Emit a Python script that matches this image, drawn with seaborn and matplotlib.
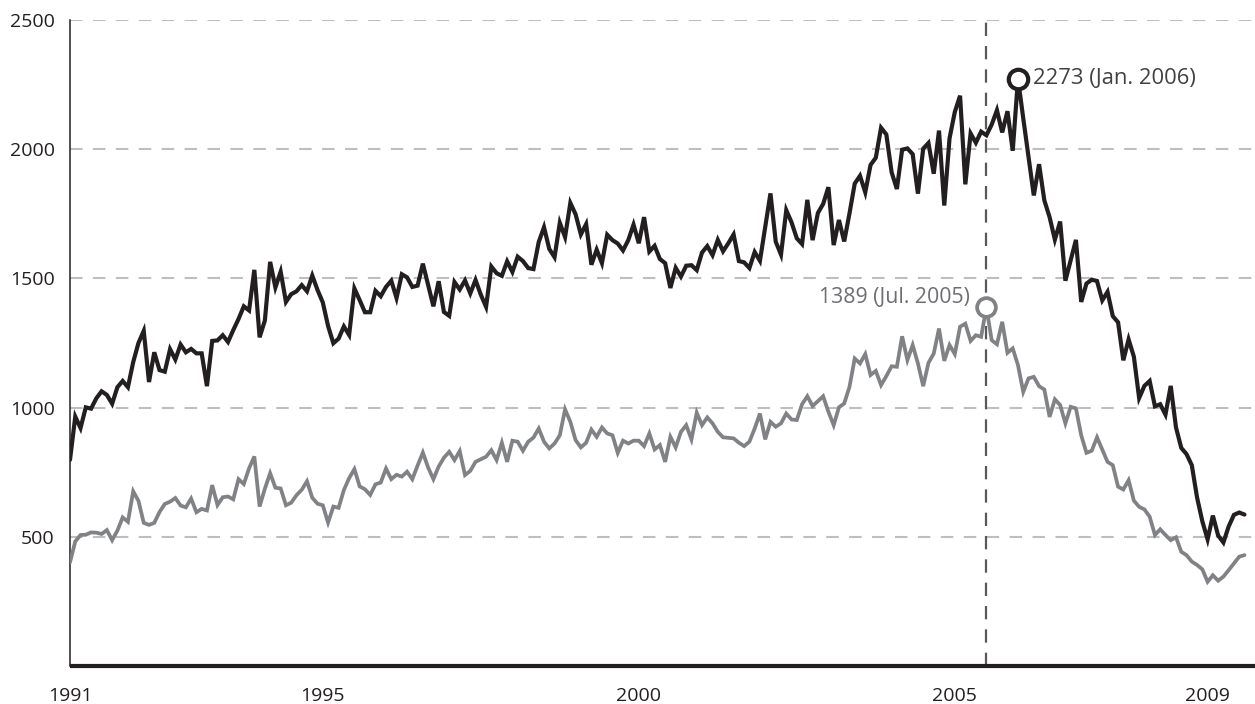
import numpy as np
import pandas as pd
import matplotlib
matplotlib.use("Agg")
import matplotlib.pyplot as plt
import seaborn as sns

# monthly values, Jan 1991 - Aug 2009 (thousands, annual rate)
starts = [
    798, 965, 921, 1001, 996, 1036, 1063, 1049, 1015, 1079, 1103, 1079,
    1176, 1250, 1297, 1099, 1214, 1145, 1139, 1226, 1186, 1244, 1214, 1227,
    1210, 1210, 1083, 1258, 1260, 1280, 1254, 1300, 1343, 1392, 1376, 1533,
    1272, 1337, 1564, 1465, 1526, 1409, 1439, 1450, 1474, 1450, 1511, 1455,
    1407, 1316, 1249, 1267, 1314, 1281, 1461, 1416, 1369, 1369, 1452, 1431,
    1467, 1491, 1424, 1516, 1504, 1467, 1472, 1557, 1475, 1392, 1489, 1370,
    1355, 1486, 1457, 1492, 1442, 1494, 1437, 1390, 1546, 1520, 1510, 1566,
    1525, 1584, 1567, 1540, 1536, 1641, 1698, 1614, 1582, 1715, 1660, 1792,
    1748, 1670, 1710, 1553, 1611, 1559, 1669, 1648, 1635, 1608, 1648, 1708,
    1636, 1737, 1604, 1626, 1575, 1559, 1463, 1541, 1507, 1549, 1551, 1532,
    1600, 1625, 1590, 1649, 1605, 1636, 1670, 1567, 1562, 1540, 1602, 1568,
    1698, 1829, 1642, 1592, 1764, 1717, 1655, 1633, 1804, 1648, 1753, 1788,
    1853, 1629, 1726, 1643, 1751, 1867, 1897, 1833, 1939, 1967, 2083, 2057,
    1911, 1846, 1998, 2003, 1981, 1828, 2002, 2024, 1905, 2072, 1782, 2042,
    2144, 2207, 1864, 2061, 2025, 2068, 2054, 2095, 2151, 2065, 2147, 1994,
    2273, 2119, 1969, 1821, 1942, 1802, 1737, 1650, 1720, 1491, 1570, 1649,
    1409, 1480, 1495, 1490, 1415, 1448, 1354, 1330, 1183, 1264, 1197, 1037,
    1084, 1103, 1005, 1013, 973, 1084, 923, 844, 820, 777, 652, 560,
    490, 582, 505, 478, 540, 585, 594, 586,
]
sales = [
    401, 482, 507, 508, 517, 516, 511, 526, 487, 524, 575, 558,
    676, 639, 554, 546, 554, 596, 627, 636, 650, 621, 614, 648,
    595, 608, 602, 700, 623, 653, 656, 645, 723, 704, 765, 811,
    617, 686, 746, 690, 687, 622, 632, 661, 682, 715, 651, 628,
    622, 555, 617, 612, 681, 727, 762, 695, 684, 662, 703, 710,
    764, 723, 740, 733, 752, 723, 776, 826, 768, 723, 772, 806,
    829, 797, 832, 739, 755, 790, 800, 810, 835, 797, 864, 790,
    872, 868, 833, 868, 884, 919, 868, 842, 861, 893, 993, 945,
    874, 846, 864, 915, 887, 923, 900, 893, 825, 872, 861, 872,
    872, 851, 900, 838, 855, 790, 887, 846, 906, 932, 877, 980,
    932, 962, 939, 906, 885, 883, 881, 864, 851, 868, 919, 977,
    877, 945, 926, 939, 977, 954, 952, 1013, 1044, 1006, 1025, 1044,
    984, 932, 1001, 1016, 1080, 1190, 1171, 1207, 1126, 1142, 1087, 1122,
    1160, 1158, 1276, 1184, 1242, 1171, 1083, 1173, 1209, 1306, 1181, 1242,
    1207, 1313, 1325, 1258, 1280, 1274, 1389, 1261, 1245, 1332, 1212, 1229,
    1164, 1061, 1113, 1119, 1083, 1070, 964, 1032, 1010, 939, 1003, 997,
    893, 825, 833, 885, 838, 790, 777, 694, 683, 719, 640, 616,
    606, 578, 507, 529, 507, 487, 498, 442, 429, 404, 391, 374,
    326, 351, 330, 346, 371, 397, 423, 429,
]
yticks = [500, 1000, 1500, 2000, 2500]
year_ticks = list(range(1991, 2010))
year_labels = ['1991', '1995', '2000', '2005', '2009']
starts_note = '2273 (Jan. 2006)'
sales_note = '1389 (Jul. 2005)'

months = pd.date_range('1991-01-01', periods=len(starts), freq='MS')
df = pd.DataFrame({
    't': months.year + (months.month - 1) / 12,
    'starts': starts,
    'sales': sales,
})

sns.set_style('white')
plt.rcParams['font.family'] = ['Open Sans', 'DejaVu Sans']

BLACK = '#231f20'
GREY = '#808285'

fig = plt.figure(figsize=(12.55, 7.04), dpi=100)
ax = fig.add_axes([70 / 1255, 38 / 704, 1185 / 1255, 646 / 704])

for y in yticks:
    ax.axhline(y, color='#bcbec0', lw=1.5, ls=(0, (6, 5)), zorder=1)

sns.lineplot(data=df, x='t', y='sales', ax=ax, color=GREY, lw=2.7, zorder=3)
sns.lineplot(data=df, x='t', y='starts', ax=ax, color=BLACK, lw=3, zorder=4)
for ln in ax.lines:
    ln.set_solid_joinstyle('miter')

i_s = int(np.argmax(df['sales']))
i_h = int(np.argmax(df['starts']))
ax.axvline(df['t'][i_s], color='#58595b', lw=1.6, ls=(0, (6, 4.5)), zorder=2)

ax.plot(df['t'][i_h], df['starts'][i_h], 'o', ms=14, mfc='white', mec=BLACK,
        mew=3, zorder=6)
ax.plot(df['t'][i_s], df['sales'][i_s], 'o', ms=13.5, mfc='white', mec=GREY,
        mew=2.7, zorder=6)
ax.annotate(starts_note, (df['t'][i_h], df['starts'][i_h]), xytext=(11, 0),
            textcoords='offset points', ha='left', va='center',
            fontsize=15.8, color='#414042')
ax.annotate(sales_note, (df['t'][i_s], df['sales'][i_s]), xytext=(-12, 7),
            textcoords='offset points', ha='right', va='center',
            fontsize=15.3, color='#6d6e71')

ax.set_xlim(1991, 2009.75)
ax.set_ylim(0, 2500)
ax.set_xticks(year_ticks)
ax.set_xticklabels([str(y) if str(y) in year_labels else '' for y in year_ticks])
ax.set_yticks(yticks)
ax.set_yticklabels([str(y) for y in yticks])
ax.set_xlabel('')
ax.set_ylabel('')
ax.tick_params(axis='x', direction='in', length=9, width=1.1, color=BLACK,
               labelsize=14, labelcolor=BLACK, pad=15)
ax.tick_params(axis='y', length=0, labelsize=14, labelcolor=BLACK, pad=11)

for s in ['top', 'right']:
    ax.spines[s].set_visible(False)
ax.spines['left'].set_color(BLACK)
ax.spines['left'].set_linewidth(1.1)
ax.spines['bottom'].set_color(BLACK)
ax.spines['bottom'].set_linewidth(3)
ax.spines['bottom'].set_capstyle('butt')

fig.savefig('out.png', dpi=100)
